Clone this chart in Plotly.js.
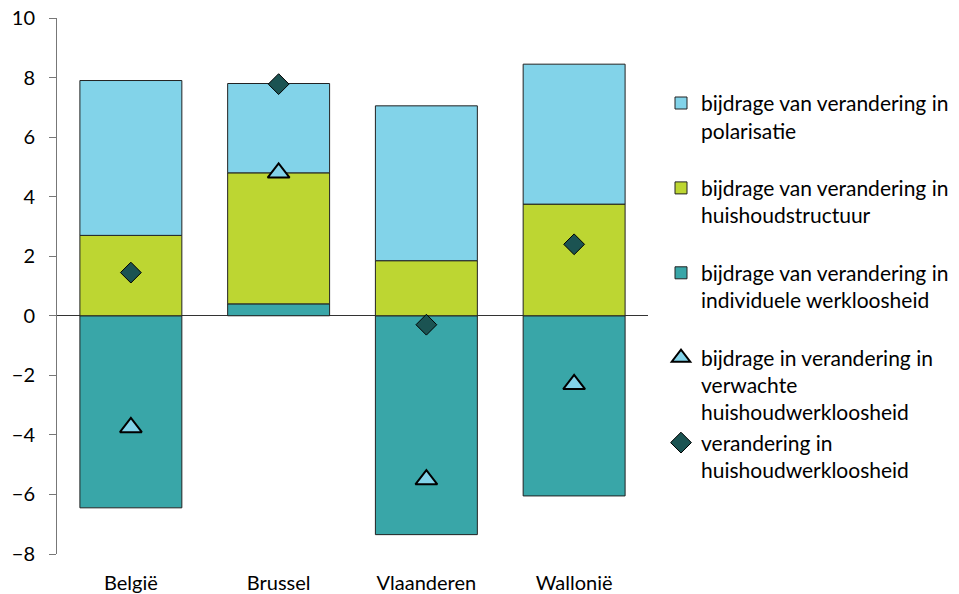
<!DOCTYPE html>
<html>
<head>
<meta charset="utf-8">
<script src="https://cdn.plot.ly/plotly-3.0.1.min.js"></script>
<style>html,body{margin:0;padding:0;background:#fff;}#chart{width:959px;height:594px;}</style>
</head>
<body>
<div id="chart"></div>
<script>
const categories = ['België', 'Brussel', 'Vlaanderen', 'Wallonië'];
const polarisatie = [5.2, 3.0, 5.2, 4.7];
const huishoudstructuur = [2.7, 4.4, 1.85, 3.75];
const individueleWerkloosheid = [-6.45, 0.4, -7.35, -6.05];
const verwachteHuishoudwerkloosheid = [-3.75, 4.8, -5.5, -2.3];
const veranderingHuishoudwerkloosheid = [1.45, 7.78, -0.3, 2.4];

const names = [
  'bijdrage van verandering in<br>polarisatie<br> ',
  'bijdrage van verandering in<br>huishoudstructuur<br> ',
  'bijdrage van verandering in<br>individuele werkloosheid<br> ',
  'bijdrage in verandering in<br>verwachte<br>huishoudwerkloosheid',
  'verandering in<br>huishoudwerkloosheid'
];

const lineStyle = {color: '#222', width: 1};
const traces = [
  {type: 'bar', x: categories, y: individueleWerkloosheid, name: names[2], legendrank: 3,
   marker: {color: '#39A6A8', line: lineStyle}},
  {type: 'bar', x: categories, y: huishoudstructuur, name: names[1], legendrank: 2,
   marker: {color: '#BDD632', line: lineStyle}},
  {type: 'bar', x: categories, y: polarisatie, name: names[0], legendrank: 1,
   marker: {color: '#82D3E9', line: lineStyle}},
  {type: 'scatter', mode: 'markers', x: categories, y: verwachteHuishoudwerkloosheid, name: names[3], legendrank: 4,
   marker: {symbol: 'triangle-up', size: 19, color: '#82D3E9', line: {color: '#000', width: 2}}},
  {type: 'scatter', mode: 'markers', x: categories, y: veranderingHuishoudwerkloosheid, name: names[4], legendrank: 5,
   marker: {symbol: 'diamond', size: 16, color: '#1B5352', line: {color: '#000', width: 1}}}
];

const layout = {
  width: 959, height: 594,
  margin: {l: 57, r: 311, t: 18, b: 40, autoexpand: false},
  paper_bgcolor: '#fff', plot_bgcolor: '#fff',
  font: {family: 'Lato, "Liberation Sans", sans-serif', size: 20, color: '#000'},
  barmode: 'relative',
  bargap: 0.31,
  showlegend: true,
  legend: {x: 1.022, y: 0.879, xanchor: 'left', yanchor: 'top', valign: 'top',
           font: {size: 21}, itemwidth: 30, tracegroupgap: 0},
  xaxis: {showline: false, showgrid: false, zeroline: false, ticks: '',
          tickfont: {size: 20}, ticklabelstandoff: 15, automargin: false},
  yaxis: {range: [-8, 10], dtick: 2, showgrid: false, showline: true, linecolor: '#777', linewidth: 1,
          ticks: 'outside', ticklen: 7, tickcolor: '#777', zeroline: true, zerolinecolor: '#333',
          zerolinewidth: 1, tickfont: {size: 20}, ticklabelstandoff: 10, automargin: false}
};

Plotly.newPlot('chart', traces, layout, {displayModeBar: false});
</script>
</body>
</html>
